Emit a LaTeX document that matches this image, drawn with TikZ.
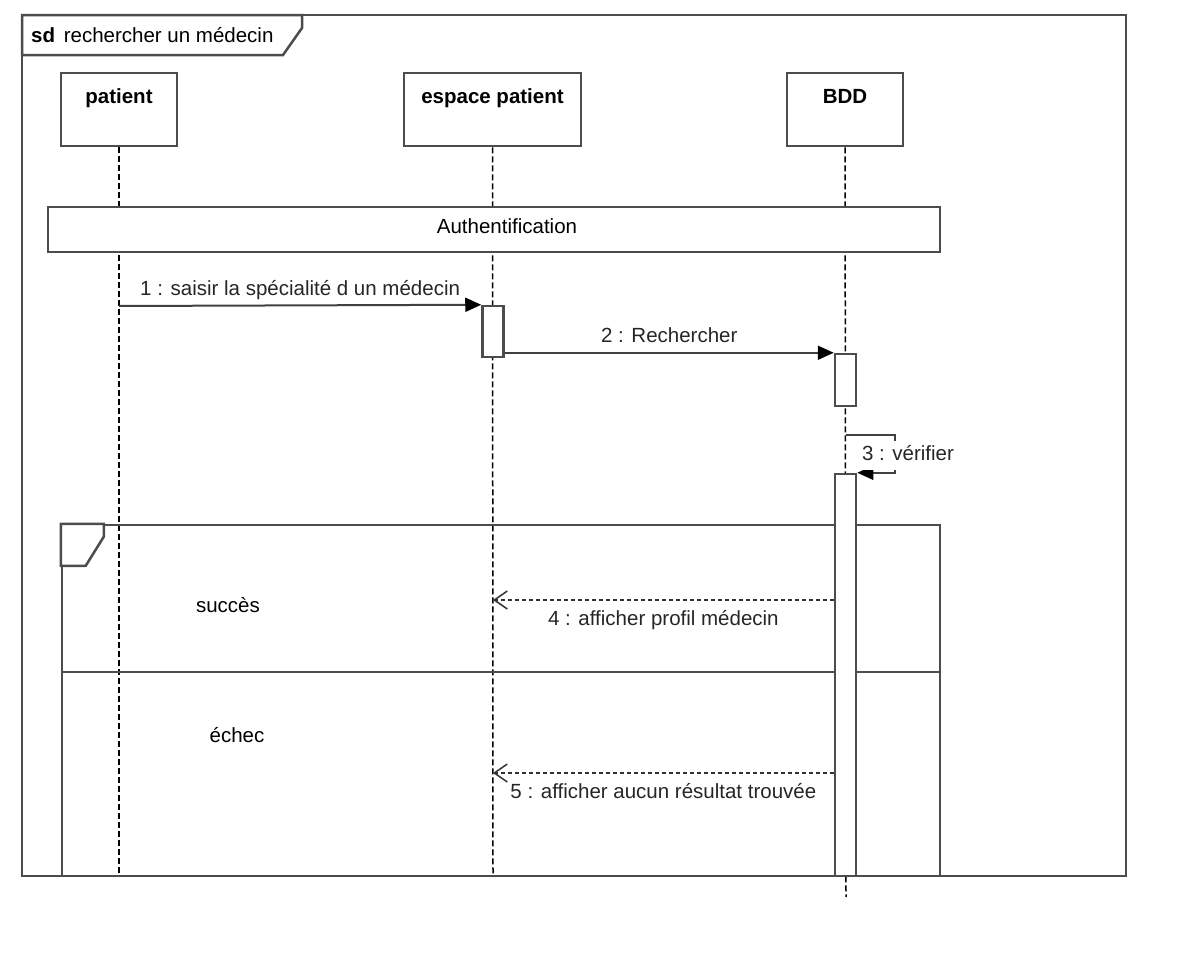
\documentclass[tikz,border=0pt]{standalone}
\usepackage{fontspec}
\setmainfont{Liberation Sans}
\usetikzlibrary{arrows.meta}
\begin{document}
\begin{tikzpicture}[x=1pt,y=-1pt,>={Triangle[length=16pt,width=14pt,color=black]},
  font=\fontsize{20.5}{24}\selectfont,
  frame/.style={draw=black!70,line width=2.5pt},
  lifebox/.style={frame,fill=white,inner sep=0pt,text height=30pt,text depth=43pt,font=\fontsize{20.5}{24}\selectfont\bfseries},
  lifeline/.style={black,line width=1.5pt,dash pattern=on 6pt off 3pt},
  actbox/.style={frame,fill=white,minimum width=21pt,inner sep=0pt},
  msg/.style={draw=black!75,line width=2pt},
  reply/.style={black!80,line width=1.5pt,dash pattern=on 4pt off 3pt,-{Straight Barb[length=13pt,width=18pt]}},
  lbl/.style={inner sep=5pt,text height=15pt,text depth=4pt,text=black!85}]
  \useasboundingbox (0,0) rectangle (1192,961);
  % outer frame
  \draw[frame] (22,15) rectangle (1126,876);
  \draw[frame,fill=white] (22,15) -- (302,15) -- (302,28) -- (283,55) -- (22,55) -- cycle;
  \node[anchor=base west,inner sep=0pt] (title) at (31,42) {\textbf{sd}\hspace{3pt} rechercher un médecin};
  % lifelines
  \node[lifebox,minimum width=116pt] (patient) at (119,109.5) {patient};
  \node[lifebox,minimum width=177pt] (espace) at (492.5,109.5) {espace patient};
  \node[lifebox,minimum width=116pt] (bdd) at (845,109.5) {BDD};
  \coordinate (patientend) at (119,876);
  \coordinate (espaceend) at (493,876);
  \coordinate (bddend) at (846,897);
  \draw[lifeline] (patient) -- (patientend);
  \draw[lifeline] (espace) -- (espaceend);
  \draw[lifeline] (bdd) -- (bddend);
  % interaction use
  \node[frame,fill=white,minimum width=892pt,minimum height=45pt,inner sep=0pt] (auth) at (494,229.5) {};
  \node[anchor=base] (authlbl) at (507,233) {Authentification};
  % activations
  \node[actbox,minimum height=51pt] (act1) at (493,331.5) {};
  \node[actbox,minimum height=52pt] (act2) at (845.5,380) {};
  % alt fragment
  \node[frame,minimum width=878pt,minimum height=351pt,inner sep=0pt] (frag) at (501,700.5) {};
  \draw[frame,fill=white] (frag.north west) -- ++(43,0) -- ++(0,13) -- ++(-18,29) -- ++(-25,0) -- cycle;
  \coordinate (alt) at (0,672);
  \draw[frame] (frag.west |- alt) -- (frag.east |- alt);
  \node (succes) at (228,605) {succès};
  \node (echec) at (237,735) {échec};
  \node[actbox,minimum height=402pt] (act3) at (845.5,675) {};
  % messages
  \coordinate (m1) at (119,306);
  \draw[msg,->] (m1) -- (act1.north west) node[lbl,midway,above] {1 : saisir la spécialité d un médecin};
  \draw[msg,->] (act1.east |- act2.north) -- (act2.north west) node[lbl,midway,above] {2 : Rechercher};
  \coordinate (m3) at (846,435);
  \draw[msg,->] (m3) -- ++(49,0) |- (act3.north east);
  \node[lbl,fill=white] (m3lbl) at (908,455) {3 : vérifier};
  \coordinate (m4) at (493,600);
  \draw[reply] (act3.west |- m4) -- (m4) node[lbl,midway,below=5pt] {4 : afficher profil médecin};
  \coordinate (m5) at (493,773);
  \draw[reply] (act3.west |- m5) -- (m5) node[lbl,midway,below=5pt] {5 : afficher aucun résultat trouvée};
\end{tikzpicture}
\end{document}
